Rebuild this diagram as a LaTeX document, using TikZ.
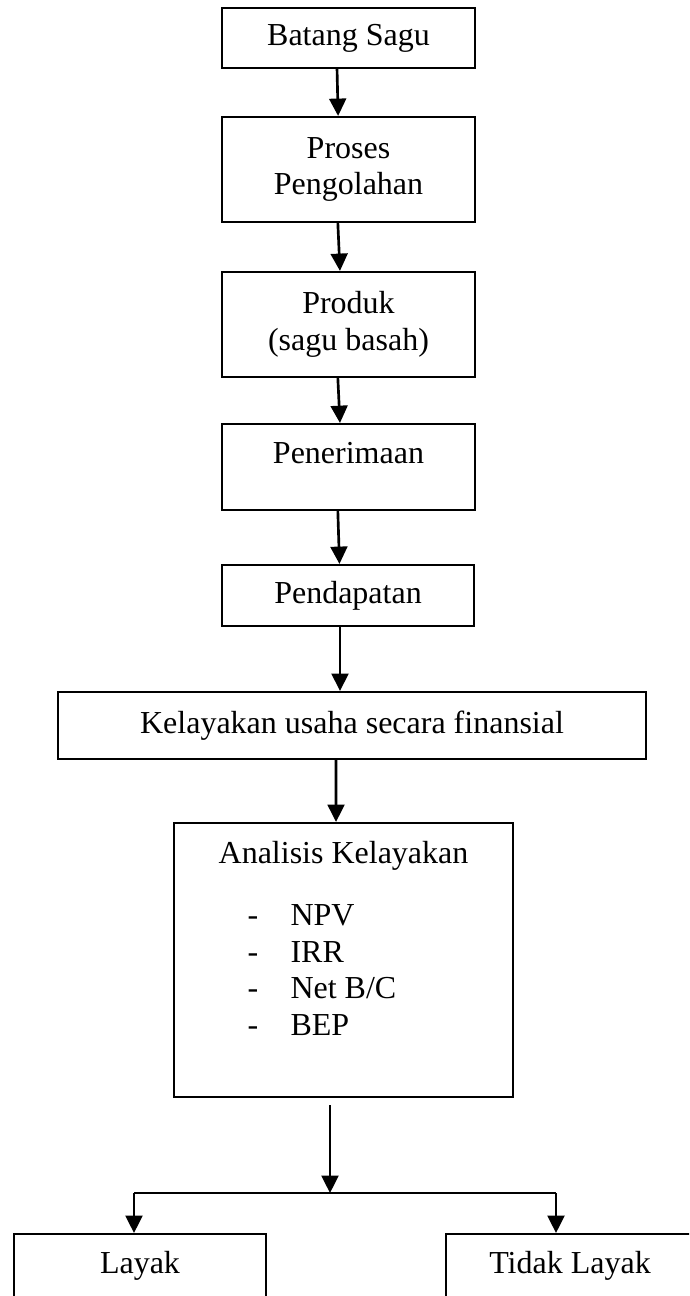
\documentclass[tikz,border=0pt]{standalone}
\usepackage{fontspec}
\setmainfont{Liberation Serif}
\usetikzlibrary{arrows.meta}

\begin{document}
\begin{tikzpicture}[x=0.375pt,y=-0.375pt,
    kotak/.style={draw, line width=0.8pt, inner sep=0pt, align=center,
      font=\fontsize{12}{13.8}\selectfont},
    teks/.style={inner sep=0pt, font=\fontsize{12}{13.8}\selectfont},
    panah/.style={-{Triangle[length=6.5pt,width=6.3pt]}, line width=1pt}]
    % Frame
    \useasboundingbox (0,0) rectangle (689,1296);
    \clip (0,0) rectangle (689,1296);

    % Process chain
    \node[kotak, minimum width=94.875pt, minimum height=22.5pt] (batang) at (348.5,38) {Batang Sagu};
    \node[kotak, minimum width=94.875pt, minimum height=39.375pt] (proses) at (348.5,169.5) {Proses\\Pengolahan};
    \node[kotak, minimum width=94.875pt, minimum height=39.375pt] (produk) at (348.5,324.5) {Produk\\(sagu basah)};
    \node[kotak, anchor=north, minimum width=94.875pt, text height=14.6pt, text depth=17.6pt] (terima) at (348.5,423) {Penerimaan};
    \node[kotak, minimum width=94.5pt, minimum height=22.875pt] (dapat) at (348,595.5) {Pendapatan};
    \node[kotak, minimum width=220.5pt, minimum height=25.125pt] (kelayakan) at (352,725.5) {Kelayakan usaha secara finansial};

    % Analysis box with its list
    \node[kotak, minimum width=127.125pt, minimum height=102.75pt] (analisis) at (343.5,960) {};
    \node[teks, anchor=base] (judul) at (343.5,863) {Analisis Kelayakan};
    \foreach \isi [count=\i] in {NPV, IRR, Net B/C, BEP} {
      \node[teks, anchor=base west] (strip\i) at (247,{889+36.5*\i}) {-};
      \node[teks, anchor=base west] (isi\i) at (290,{889+36.5*\i}) {\isi};
    }

    % Outcomes (cut by the frame)
    \node[kotak, anchor=north, minimum width=94.5pt, text height=14.6pt, text depth=25pt] (layak) at (140,1233) {Layak};
    \node[kotak, anchor=north, minimum width=93pt, text height=14.6pt, text depth=25pt] (tidak) at (570,1233) {Tidak Layak};

    % Arrows down the chain
    \draw[panah] ([xshift=-4.3pt]batang.south) -- ([xshift=-3.9pt]proses.north);
    \draw[panah] ([xshift=-4pt]proses.south) -- ([xshift=-3.2pt]produk.north);
    \draw[panah] ([xshift=-4pt]produk.south) -- ([xshift=-3.2pt]terima.north);
    \draw[panah] ([xshift=-4pt]terima.south) -- ([xshift=-3.2pt]dapat.north);
    \draw[panah] ([xshift=-3pt]dapat.south) -- ([xshift=-4.5pt]kelayakan.north);
    \draw[panah] ([xshift=-6pt]kelayakan.south) -- ([xshift=-2.8pt]analisis.north);

    % Branch
    \coordinate (cabang) at (330,1193);
    \coordinate (kiri) at (134,1193);
    \coordinate (kanan) at (556,1193);
    \draw[line width=0.8pt] (kiri) -- (kanan);
    \draw[panah, shorten <=2.6pt] (analisis.south -| cabang) -- (cabang);
    \draw[panah] (kiri) -- (kiri |- layak.north);
    \draw[panah] (kanan) -- (kanan |- tidak.north);
\end{tikzpicture}
\end{document}
